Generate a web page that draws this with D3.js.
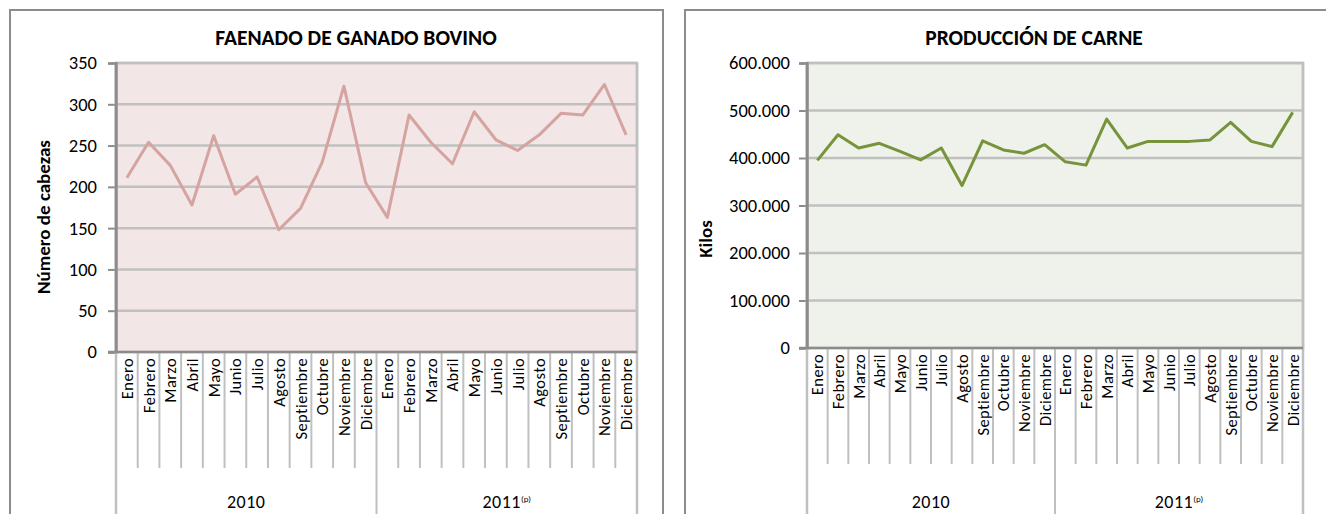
<!DOCTYPE html>
<html>
<head>
<meta charset="utf-8">
<script src="https://cdn.jsdelivr.net/npm/d3@7"></script>
<style>
  body { margin: 0; background: #fff; }
  text { font-family: Carlito, Lato, "Open Sans", sans-serif; fill: #000; }
</style>
</head>
<body>
<svg id="chart" width="1326" height="514"></svg>
<script>
// Data
const months = ["Enero", "Febrero", "Marzo", "Abril", "Mayo", "Junio", "Julio",
  "Agosto", "Septiembre", "Octubre", "Noviembre", "Diciembre"];
const years = ["2010", "2011"];

// Faenado de ganado bovino (número de cabezas), 2010 then 2011
const cabezas = [211, 254, 226, 178, 262, 191, 212, 148, 174, 230, 322, 205,
  163, 287, 254, 228, 291, 257, 244, 263, 289, 287, 324, 263];
// Producción de carne (kilos)
const kilos = [395000, 449000, 421000, 431000, 414000, 396000, 421000, 342000, 436000, 417000, 410000, 428000,
  392000, 385000, 482000, 421000, 435000, 435000, 435000, 438000, 475000, 435000, 424000, 496000];

const cabezasTicks = [0, 50, 100, 150, 200, 250, 300, 350];
const kilosTicks = [0, 100000, 200000, 300000, 400000, 500000, 600000];

const svg = d3.select("#chart");
const esLocale = d3.formatLocale({ decimal: ",", thousands: ".", grouping: [3], currency: ["$", ""] });

const drawPanel = (parent, props) => {
  const { box, plot, title, titleX, yLabel, yLabelX, yLabelY, values, ticks, fmt,
    bg, lineColor, labelGap } = props;

  const g = parent.append("g");

  // Outer chart border
  g.append("rect")
    .attr("x", box.x).attr("y", box.y)
    .attr("width", box.w).attr("height", box.h)
    .attr("fill", "#fff")
    .attr("stroke", "#8c8c8c")
    .attr("stroke-width", 2);

  // Title
  g.append("text")
    .attr("x", titleX).attr("y", 45)
    .attr("text-anchor", "middle")
    .style("font-weight", "bold")
    .style("font-size", "21.5px")
    .text(title);

  const cats = d3.range(values.length);
  const x = d3.scaleBand().domain(cats).range([plot.x0, plot.x1]);
  const y = d3.scaleLinear().domain([0, d3.max(ticks)]).range([plot.y1, plot.y0]);

  // Plot area
  g.append("rect")
    .attr("x", plot.x0).attr("y", plot.y0)
    .attr("width", plot.x1 - plot.x0).attr("height", plot.y1 - plot.y0)
    .attr("fill", bg)
    .attr("stroke", "#c0c0c0")
    .attr("stroke-width", 2.5);

  // Gridlines
  g.append("g")
    .selectAll("line").data(ticks.slice(1))
    .enter().append("line")
      .attr("x1", plot.x0).attr("x2", plot.x1)
      .attr("y1", d => y(d)).attr("y2", d => y(d))
      .attr("stroke", "#c0c0c0")
      .attr("stroke-width", 2.5);

  // Y axis
  const yAxis = g.append("g")
    .attr("transform", `translate(${plot.x0},0)`)
    .call(d3.axisLeft(y).tickValues(ticks).tickSize(8).tickPadding(labelGap).tickFormat(fmt));
  yAxis.select(".domain").attr("stroke", "#8c8c8c").attr("stroke-width", 2.5);
  yAxis.selectAll(".tick line").attr("stroke", "#8c8c8c").attr("stroke-width", 2);
  yAxis.selectAll(".tick text")
    .style("font-family", "Carlito, Lato, sans-serif")
    .style("font-size", "18.5px")
    .attr("fill", "#000");

  // Y axis title
  g.append("text")
    .attr("transform", `translate(${yLabelX},${yLabelY}) rotate(-90)`)
    .attr("text-anchor", "middle")
    .style("font-weight", "bold")
    .style("font-size", "19px")
    .text(yLabel);

  // Category separators (months)
  const sepColor = "#c0c0c0";
  g.append("g")
    .selectAll("line").data(d3.range(1, values.length))
    .enter().append("line")
      .attr("x1", d => x(d)).attr("x2", d => x(d))
      .attr("y1", plot.y1).attr("y2", d => d % 12 === 0 ? 520 : plot.y1 + 116)
      .attr("stroke", sepColor)
      .attr("stroke-width", 2);
  g.append("g")
    .selectAll("line").data([plot.x0, plot.x1])
    .enter().append("line")
      .attr("x1", d => d).attr("x2", d => d)
      .attr("y1", plot.y0).attr("y2", 520)
      .attr("stroke", sepColor)
      .attr("stroke-width", 2.5);
  // re-draw x axis baseline
  g.append("line")
    .attr("x1", plot.x0 - 8).attr("x2", plot.x1)
    .attr("y1", plot.y1).attr("y2", plot.y1)
    .attr("stroke", "#8c8c8c").attr("stroke-width", 2.5);
  g.append("line")
    .attr("x1", plot.x0).attr("x2", plot.x0)
    .attr("y1", plot.y0 - 1).attr("y2", plot.y1)
    .attr("stroke", "#8c8c8c").attr("stroke-width", 2.5);

  // Month labels
  g.append("g")
    .selectAll("text").data(cats)
    .enter().append("text")
      .attr("transform", d => `translate(${x(d) + x.bandwidth() / 2 + 6},${plot.y1 + 6}) rotate(-90)`)
      .attr("text-anchor", "end")
      .style("font-size", "16.5px")
      .style("letter-spacing", "0.4px")
      .text(d => months[d % 12]);

  // Year labels
  const yearLabels = g.append("g")
    .selectAll("text").data(years)
    .enter().append("text")
      .attr("x", (d, i) => (x(i * 12) + x(i * 12 + 11) + x.bandwidth()) / 2)
      .attr("y", 508)
      .attr("text-anchor", "middle")
      .style("font-size", "18px")
      .style("letter-spacing", "0.5px")
      .text(d => d);
  yearLabels.filter((d, i) => i === 1)
    .append("tspan")
      .attr("dy", -6)
      .style("font-size", "9px")
      .style("letter-spacing", "0px")
      .text("(p)");

  // Line
  const line = d3.line()
    .x((d, i) => x(i) + x.bandwidth() / 2)
    .y(d => y(d));
  g.append("path")
    .datum(values)
    .attr("d", line)
    .attr("fill", "none")
    .attr("stroke", lineColor)
    .attr("stroke-width", 3)
    .attr("stroke-linejoin", "round");
};

drawPanel(svg, {
  box: { x: 10, y: 10, w: 653, h: 530 },
  plot: { x0: 116, x1: 637, y0: 63, y1: 352 },
  title: "FAENADO DE GANADO BOVINO",
  titleX: 356,
  yLabel: "Número de cabezas",
  yLabelX: 50, yLabelY: 217,
  values: cabezas,
  ticks: cabezasTicks,
  fmt: d3.format("d"),
  bg: "#f2e7e6",
  lineColor: "#d5a3a0",
  labelGap: 11
});

drawPanel(svg, {
  box: { x: 685, y: 10, w: 660, h: 530 },
  plot: { x0: 807, x1: 1303, y0: 63, y1: 348 },
  title: "PRODUCCIÓN DE CARNE",
  titleX: 1034,
  yLabel: "Kilos",
  yLabelX: 712, yLabelY: 239,
  values: kilos,
  ticks: kilosTicks,
  fmt: esLocale.format(",d"),
  bg: "#eff2ea",
  lineColor: "#77933c",
  labelGap: 9
});
</script>
</body>
</html>
